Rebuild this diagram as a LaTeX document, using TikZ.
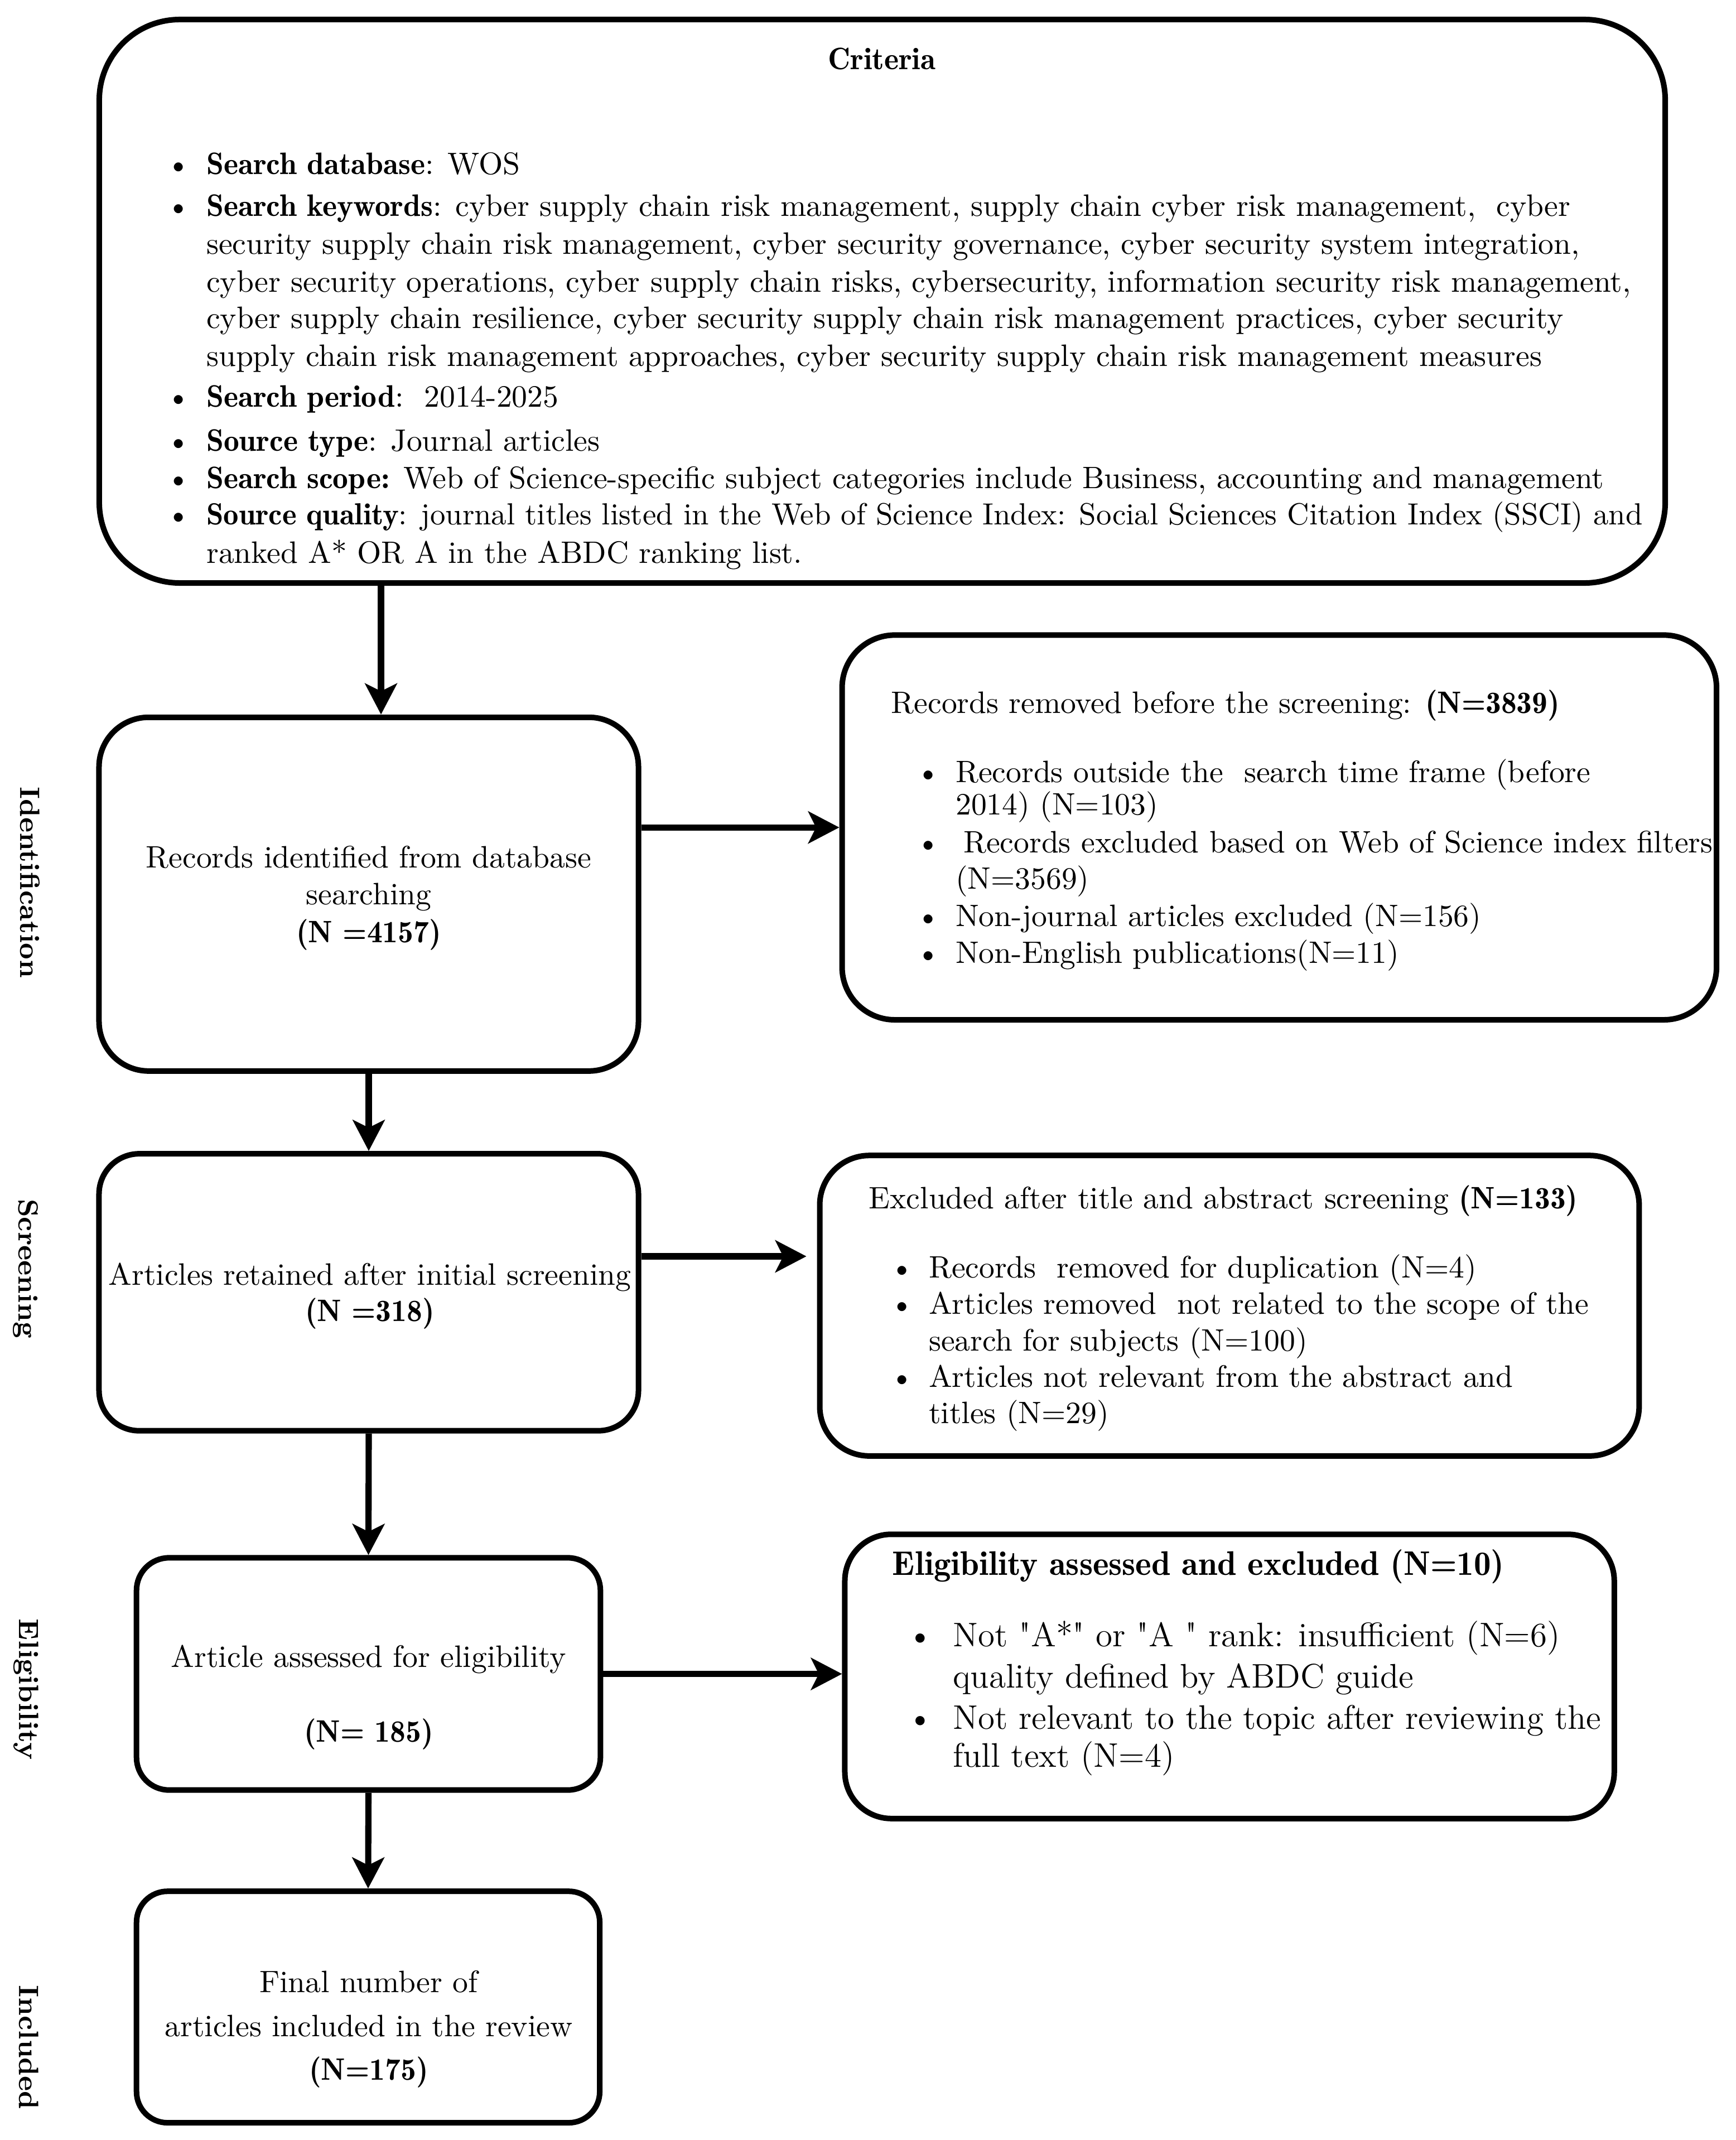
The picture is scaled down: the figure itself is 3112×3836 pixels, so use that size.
\documentclass[tikz,border=0pt]{standalone}
\usetikzlibrary{arrows.meta}
\renewcommand\bfdefault{b}
\begin{document}
\begin{tikzpicture}[x=0.18pt,y=-0.18pt,
  box/.style={draw, line width=1.8pt, inner sep=0pt},
  arr/.style={draw, line width=2pt, -{Stealth[length=10pt,width=10.3pt,inset=2.5pt]}},
  txt/.style={anchor=base west, inner sep=0pt, font=\fontsize{10}{12}\selectfont},
  ctxt/.style={anchor=base, inner sep=0pt, font=\fontsize{10}{12}\selectfont},
  btxt/.style={anchor=base west, inner sep=0pt, font=\fontsize{11}{13}\selectfont},
  side/.style={rotate=-90, inner sep=0pt, font=\fontsize{9}{11}\fontseries{bx}\selectfont}]
\useasboundingbox (0,0) rectangle (3112,3836);

% boxes
\node[box, rounded corners=26pt, minimum width=505.26pt, minimum height=181.8pt] (top) at (1581.5,540) {};
\node[box, rounded corners=16pt, minimum width=174.06pt, minimum height=114.12pt] (id) at (661,1602.8) {};
\node[box, rounded corners=17pt, minimum width=282.15pt, minimum height=124.13pt] (r1) at (2293.3,1483.2) {};
\node[box, rounded corners=13pt, minimum width=174.06pt, minimum height=89.37pt] (scr) at (661,2316.4) {};
\node[box, rounded corners=16pt, minimum width=264.38pt, minimum height=96.95pt] (r2) at (2203.9,2340.5) {};
\node[box, rounded corners=10.5pt, minimum width=149.67pt, minimum height=74.93pt] (elig) at (660.5,3000.5) {};
\node[box, rounded corners=10pt, minimum width=149.45pt, minimum height=74.68pt] (inc) at (659.9,3597.6) {};
\node[box, rounded corners=15pt, minimum width=248.26pt, minimum height=91.71pt] (r3) at (2204.1,3005) {};

\begin{scope}[shift={(0,2)}, scale=1.003]
% side labels
\node[side] (lid) at (54,1575) {Identification};
\node[side] (lscr) at (46,2265) {Screening};
\node[side] (lel) at (47,3017) {Eligibility};
\node[side] (lin) at (52,3657) {Included};

% criteria box
\node[ctxt] (crit) at (1576,122) {\textbf{Criteria}};
\node[txt] (tb1) at (296,310) {\textbullet};
\node[txt] (tt1) at (368,310) {\textbf{Search database}: WOS};
\node[txt] (tb2) at (296,384) {\textbullet};
\node[txt] (tt2) at (368,384) {\textbf{Search keywords}: cyber supply chain risk management, supply chain cyber risk management,\ \ cyber};
\node[txt] (tt3) at (368,452) {security supply chain risk management, cyber security governance, cyber security system integration,};
\node[txt] (tt4) at (368,520) {cyber security operations, cyber supply chain risks, cybersecurity, information security risk management,};
\node[txt] (tt5) at (368,585) {cyber supply chain resilience, cyber security supply chain risk management practices, cyber security};
\node[txt] (tt6) at (368,653) {supply chain risk management approaches, cyber security supply chain risk management measures};
\node[txt] (tb3) at (296,725) {\textbullet};
\node[txt] (tt7) at (368,725) {\textbf{Search period}:\ \ 2014-2025};
\node[txt] (tb4) at (296,804) {\textbullet};
\node[txt] (tt8) at (368,804) {\textbf{Source type}: Journal articles};
\node[txt] (tb5) at (296,871) {\textbullet};
\node[txt] (tt9) at (368,871) {\textbf{Search scope:} Web of Science-specific subject categories include Business, accounting and management};
\node[txt] (tb6) at (296,936) {\textbullet};
\node[txt, font=\fontsize{9.85}{12}\selectfont] (tt10) at (368,936) {\textbf{Source quality}: journal titles listed in the Web of Science Index: Social Sciences Citation Index (SSCI) and};
\node[txt] (tt11) at (368,1004) {ranked A* OR A in the ABDC ranking list.};

% identification box
\node[ctxt] (id1) at (659,1549) {Records identified from database};
\node[ctxt] (id2) at (659,1615) {searching};
\node[ctxt] (id3) at (659,1682) {\textbf{(N =4157)}};

% removed box
\node[txt] (ra) at (1592,1273) {Records removed before the screening: \textbf{(N=3839)}};
\node[txt] (rb1) at (1636,1396) {\textbullet};
\node[txt] (rt1) at (1707,1396) {Records outside the\ \ search time frame (before};
\node[txt] (rt2) at (1707,1454) {2014) (N=103)};
\node[txt] (rb2) at (1636,1522) {\textbullet};
\node[txt] (rt3) at (1721,1522) {Records excluded based on Web of Science index filters};
\node[txt] (rt4) at (1707,1587) {(N=3569)};
\node[txt] (rb3) at (1636,1654) {\textbullet};
\node[txt] (rt5) at (1707,1654) {Non-journal articles excluded (N=156)};
\node[txt] (rb4) at (1636,1719) {\textbullet};
\node[txt] (rt6) at (1707,1719) {Non-English publications(N=11)};

% screening box
\node[ctxt] (s1) at (661,2295) {Articles retained after initial screening};
\node[ctxt] (s2) at (661,2359) {\textbf{(N =318)}};

% excluded box
\node[txt] (ea) at (1552,2158) {Excluded after title and abstract screening \textbf{(N=133)}};
\node[txt] (eb1) at (1590,2282) {\textbullet};
\node[txt] (et1) at (1659,2282) {Records\ \ removed for duplication (N=4)};
\node[txt] (eb2) at (1590,2346) {\textbullet};
\node[txt] (et2) at (1659,2346) {Articles removed\ \ not related to the scope of the};
\node[txt] (et3) at (1659,2412) {search for subjects (N=100)};
\node[txt] (eb3) at (1590,2477) {\textbullet};
\node[txt] (et4) at (1659,2477) {Articles not relevant from the abstract and};
\node[txt] (et5) at (1659,2542) {titles (N=29)};

% eligibility box
\node[ctxt] (el1) at (659,2978) {Article assessed for eligibility};
\node[ctxt] (el2) at (659,3111) {\textbf{(N= 185)}};

% included box
\node[ctxt] (in1) at (659,3559) {Final number of};
\node[ctxt] (in2) at (659,3638) {articles included in the review};
\node[ctxt] (in3) at (659,3715) {\textbf{(N=175)}};

% eligibility excluded box
\node[btxt] (xa) at (1594,2813) {\textbf{Eligibility assessed and excluded (N=10)}};
\node[btxt] (xb1) at (1620,2941) {\textbullet};
\node[btxt] (xt1) at (1702,2941) {Not \textquotedbl A*\textquotedbl{} or \textquotedbl A \textquotedbl{} rank: insufficient (N=6)};
\node[btxt] (xt2) at (1702,3014) {quality defined by ABDC guide};
\node[btxt] (xb2) at (1620,3088) {\textbullet};
\node[btxt] (xt3) at (1702,3088) {Not relevant to the topic after reviewing the};
\node[btxt] (xt4) at (1702,3156) {full text (N=4)};
\end{scope}

% connectors
\coordinate (a0) at (683,0);
\coordinate (a3) at (0,2252);
\draw[arr] (a0 |- top.south) -- (a0 |- id.north);
\draw[arr] (id.east |- r1.west) -- (r1.west);
\draw[arr] (id.south) -- (scr.north);
\draw[arr, shorten >=3.4pt] (scr.east |- a3) -- (r2.west |- a3);
\draw[arr] (scr.south) -- (elig.north);
\draw[arr] (elig.east) -- (r3.west |- elig.east);
\draw[arr] (elig.south) -- (inc.north);
\end{tikzpicture}
\end{document}
